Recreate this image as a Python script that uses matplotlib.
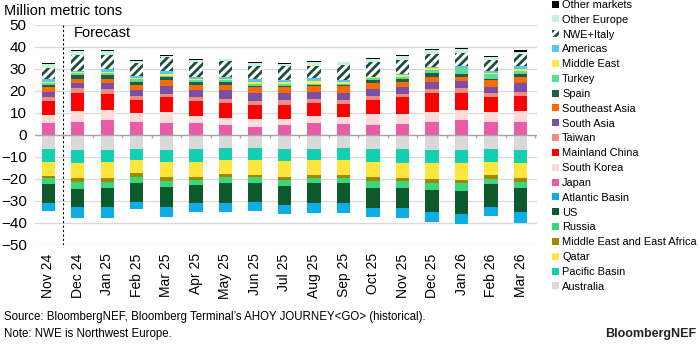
import matplotlib
matplotlib.use("Agg")
import matplotlib.pyplot as plt
from matplotlib.patches import Patch
import numpy as np

plt.rcParams["font.family"] = ["Liberation Sans", "DejaVu Sans"]
plt.rcParams["hatch.linewidth"] = 2.0

months = ["Nov 24", "Dec 24", "Jan 25", "Feb 25", "Mar 25", "Apr 25", "May 25",
          "Jun 25", "Jul 25", "Aug 25", "Sep 25", "Oct 25", "Nov 25", "Dec 25",
          "Jan 26", "Feb 26", "Mar 26"]

# supply side (drawn below zero), listed from the zero line downwards
australia = [6.4, 6.8, 6.8, 6.4, 6.8, 6.4, 5.8, 5.8, 6.4, 6.4, 5.8, 6.4, 6.4, 6.8, 6.8, 6.4, 6.8]
pacific_basin = [5.7, 6.1, 5.6, 5.0, 5.6, 5.7, 5.6, 5.6, 5.3, 5.0, 5.6, 5.7, 6.2, 6.1, 6.1, 5.7, 6.1]
qatar = [6.4, 6.8, 7.3, 6.0, 6.5, 6.8, 6.3, 6.8, 7.2, 6.8, 6.8, 6.8, 6.8, 7.1, 7.6, 6.1, 6.5]
me_east_africa = [1.2, 1.8, 1.8, 1.8, 2.0, 1.6, 1.2, 1.0, 1.6, 1.2, 1.2, 2.0, 1.5, 1.7, 1.5, 1.8, 1.8]
russia = [2.7, 3.0, 2.7, 2.7, 2.6, 2.2, 3.0, 2.7, 2.5, 2.5, 2.5, 3.0, 3.0, 3.3, 3.3, 2.4, 3.0]
us = [8.4, 8.4, 8.7, 8.4, 9.1, 8.4, 8.9, 8.7, 8.8, 9.2, 8.9, 9.1, 9.1, 9.8, 10.8, 10.2, 10.6]
atlantic_basin = [3.7, 4.7, 4.7, 3.3, 4.5, 3.7, 4.0, 3.8, 4.1, 4.5, 4.8, 4.4, 4.9, 4.9, 4.5, 4.2, 5.4]

# demand side (drawn above zero), listed from the zero line upwards
japan = [5.6, 5.9, 6.8, 5.9, 5.6, 5.6, 4.5, 3.8, 4.5, 5.6, 5.0, 4.5, 5.0, 5.9, 6.8, 5.9, 5.9]
south_korea = [3.5, 5.0, 4.6, 3.9, 5.0, 3.0, 3.1, 3.5, 2.8, 3.0, 3.0, 5.0, 4.5, 4.4, 4.6, 4.7, 5.0]
china = [6.1, 8.3, 7.2, 6.1, 6.4, 6.6, 6.8, 6.3, 6.3, 5.8, 6.1, 6.4, 7.5, 8.9, 7.8, 6.5, 6.8]
taiwan = [1.8, 1.9, 2.3, 1.8, 1.5, 1.9, 2.1, 1.9, 2.3, 2.0, 1.8, 1.8, 1.6, 1.7, 2.2, 1.8, 1.8]
south_asia = [2.4, 2.4, 2.6, 2.8, 3.5, 3.4, 3.7, 3.4, 3.0, 3.0, 3.0, 3.2, 3.1, 3.0, 3.1, 2.8, 4.0]
southeast_asia = [2.3, 2.0, 2.0, 2.2, 3.0, 2.2, 2.5, 2.8, 2.8, 2.6, 3.1, 2.9, 2.4, 2.3, 1.9, 3.3, 2.7]
spain = [1.0, 1.6, 1.6, 1.4, 1.2, 1.5, 1.4, 0.7, 0.7, 0.7, 0.7, 1.2, 1.5, 2.1, 1.5, 0.6, 1.5]
turkey = [0.8, 0.9, 0.9, 1.2, 0.6, 0.8, 0.9, 0.6, 0.6, 0.3, 0.5, 0.8, 0.9, 1.2, 2.4, 2.1, 1.4]
middle_east = [0.6, 0.6, 0.8, 0.5, 0.9, 0.6, 0.6, 1.1, 0.9, 1.5, 1.0, 0.4, 0.5, 0.8, 0.3, 0.5, 0.9]
americas = [1.4, 0.6, 1.0, 1.0, 1.5, 0.6, 0.6, 1.4, 1.1, 1.3, 0.8, 0.3, 0.7, 0.5, 0.5, 0.9, 1.1]
nwe_italy = [4.8, 7.2, 6.6, 5.8, 6.1, 6.7, 7.6, 5.6, 6.1, 5.7, 6.8, 6.8, 6.4, 6.0, 6.3, 5.0, 5.6]
other_europe = [2.0, 1.5, 1.5, 1.0, 0.6, 1.2, 0.6, 1.5, 1.2, 1.5, 1.1, 1.1, 1.8, 1.8, 1.7, 1.2, 0.9]
other_markets = [0.4, 0.7, 0.7, 0.5, 0.5, 0.6, 0.3, 0.4, 0.4, 0.5, 0.4, 0.4, 0.5, 0.5, 0.4, 0.6, 1.0]

supply = [
    ("Australia", australia, "#D9D9D9"),
    ("Pacific Basin", pacific_basin, "#14CFB0"),
    ("Qatar", qatar, "#FFE63C"),
    ("Middle East and East Africa", me_east_africa, "#9E8A00"),
    ("Russia", russia, "#3ED67C"),
    ("US", us, "#0D5A2D"),
    ("Atlantic Basin", atlantic_basin, "#0CAEE8"),
]
demand = [
    ("Japan", japan, "#E95DA8"),
    ("South Korea", south_korea, "#FDDADA"),
    ("Mainland China", china, "#FF0000"),
    ("Taiwan", taiwan, "#F28B82"),
    ("South Asia", south_asia, "#7B4FA6"),
    ("Southeast Asia", southeast_asia, "#FF6A00"),
    ("Spain", spain, "#1E5E4B"),
    ("Turkey", turkey, "#5FDD8E"),
    ("Middle East", middle_east, "#FFE84C"),
    ("Americas", americas, "#55C8F2"),
    ("NWE+Italy", nwe_italy, "hatch"),
    ("Other Europe", other_europe, "#C8F2DC"),
    ("Other markets", other_markets, "#000000"),
]

fig = plt.figure(figsize=(7, 3.5), dpi=100)
ax = fig.add_axes([0.05, 0.3, 0.717, 0.629])

x = np.arange(len(months))
w = 0.45
handles = {}

bottom = np.zeros(len(months))
for name, vals, col in supply:
    v = -np.array(vals)
    ax.bar(x, v, w, bottom=bottom, color=col, linewidth=0, zorder=3)
    bottom = bottom + v
    handles[name] = Patch(facecolor=col, edgecolor="none")

bottom = np.zeros(len(months))
for name, vals, col in demand:
    v = np.array(vals)
    if col == "hatch":
        ax.bar(x, v, w, bottom=bottom, color="white", edgecolor="#1E4D3A",
               hatch="////", linewidth=0, zorder=3)
        handles[name] = Patch(facecolor="white", edgecolor="#1E4D3A", hatch="////", linewidth=0)
    else:
        ax.bar(x, v, w, bottom=bottom, color=col, linewidth=0, zorder=3)
        handles[name] = Patch(facecolor=col, edgecolor="none")
    bottom = bottom + v

ax.set_ylim(-50, 50)
ax.set_xlim(-0.45, len(months) - 0.45)
ax.set_yticks(range(-50, 51, 10))
ax.yaxis.grid(True, color="#D9D9D9", linewidth=0.9, zorder=0)
ax.set_axisbelow(True)
for s in ax.spines.values():
    s.set_visible(False)
ax.tick_params(axis="y", length=0, labelsize=11, pad=6)
ax.set_xticks(x)
ax.set_xticklabels(months, rotation=90, fontsize=10)
ax.tick_params(axis="x", length=0, pad=6)

# zero line with category separators
ax.axhline(0, color="#A6A6A6", linewidth=1, zorder=4)
ax.vlines(x[:-1] + 0.5, -1.4, 0, color="#A6A6A6", linewidth=1, zorder=4)
ax.vlines(len(months) - 0.5, -1.4, 0, color="#A6A6A6", linewidth=1, zorder=4)

# forecast divider
ax.axvline(0.5, color="black", linestyle=(0, (2, 2)), linewidth=0.8, zorder=5)
ax.text(0.85, 46.5, "Forecast", fontsize=10.5, va="center", ha="left")

fig.text(0.005, 0.968, "Million metric tons", fontsize=10.5, va="center", ha="left")

order = ["Other markets", "Other Europe", "NWE+Italy", "Americas", "Middle East",
         "Turkey", "Spain", "Southeast Asia", "South Asia", "Taiwan",
         "Mainland China", "South Korea", "Japan", "Atlantic Basin", "US", "Russia",
         "Middle East and East Africa", "Qatar", "Pacific Basin", "Australia"]
fig.legend([handles[n] for n in order], order, loc="upper left",
           bbox_to_anchor=(0.789, 1.0), frameon=False, fontsize=7.9,
           handlelength=0.6, handleheight=0.6, handletextpad=0.3,
           labelspacing=0.44, borderaxespad=0, borderpad=0)

fig.text(0.005, 0.093, "Source: BloombergNEF, Bloomberg Terminal\u2019s AHOY JOURNEY<GO> (historical).",
         fontsize=8.3, va="center", ha="left")
fig.text(0.005, 0.047, "Note: NWE is Northwest Europe.", fontsize=8.3, va="center", ha="left")
fig.text(0.995, 0.047, "BloombergNEF", fontsize=9, fontweight="bold", va="center",
         ha="right", color="#222222")

plt.savefig("out.png", dpi=100)
